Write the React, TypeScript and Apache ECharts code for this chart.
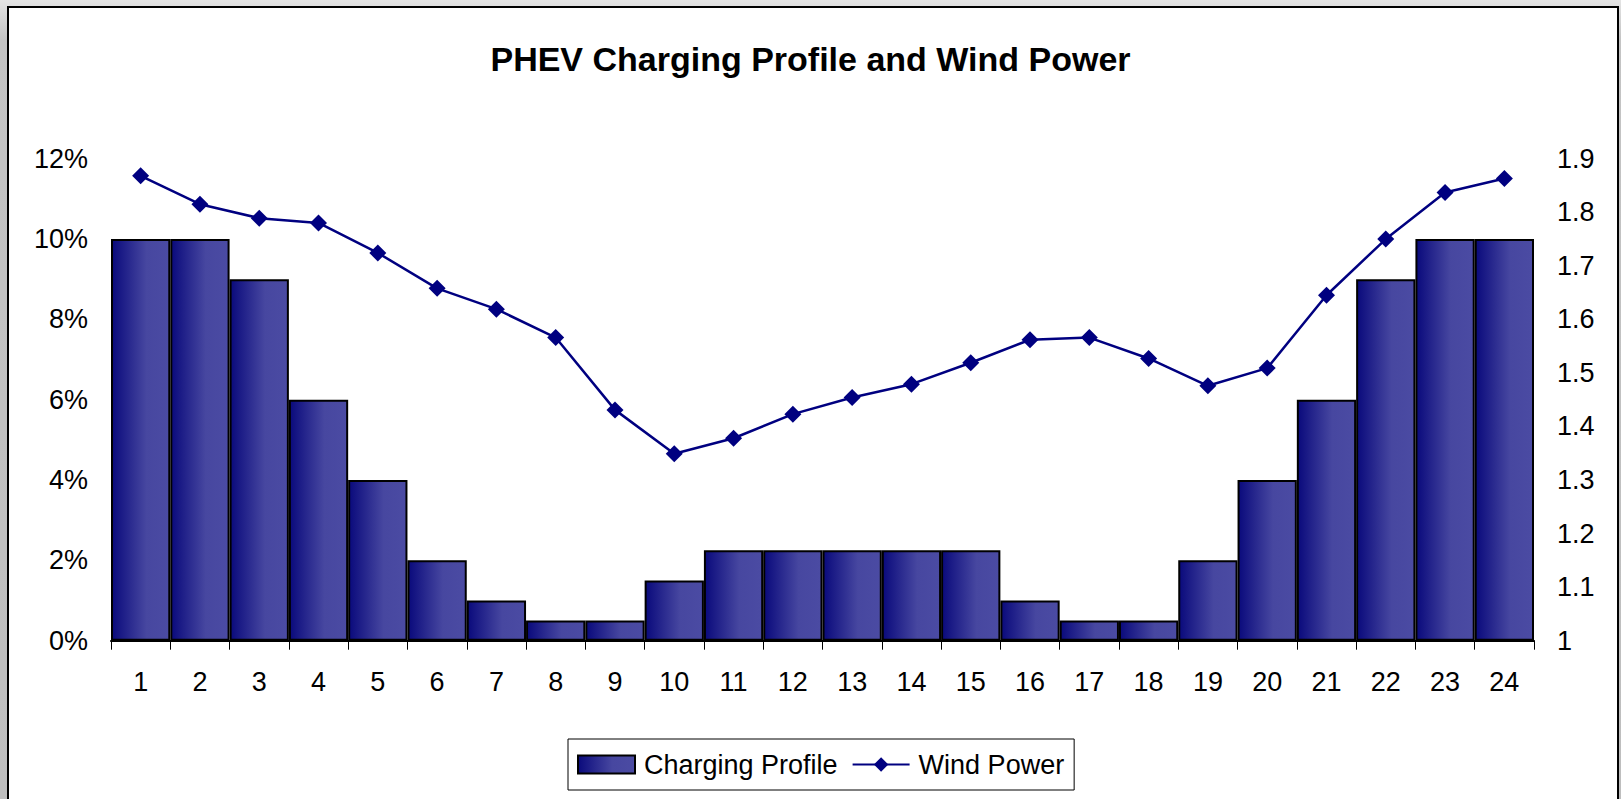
import React, { useEffect, useRef } from "react";
import * as echarts from "echarts";

const hours = ["1","2","3","4","5","6","7","8","9","10","11","12","13","14","15","16","17","18","19","20","21","22","23","24"];
const chargingProfile = [10, 10, 9, 6, 4, 2, 1, 0.5, 0.5, 1.5, 2.25, 2.25, 2.25, 2.25, 2.25, 1, 0.5, 0.5, 2, 4, 6, 9, 10, 10];
const windPower = [1.868, 1.815, 1.789, 1.78, 1.724, 1.658, 1.619, 1.566, 1.431, 1.349, 1.378, 1.423, 1.454, 1.479, 1.519, 1.562, 1.566, 1.527, 1.476, 1.509, 1.645, 1.75, 1.837, 1.863];
const titleText = "PHEV Charging Profile and Wind Power";
const seriesNames = ["Charging Profile", "Wind Power"];

const FONT = "'Liberation Sans', Arial, sans-serif";

export default function App() {
  const ref = useRef<HTMLDivElement>(null);
  useEffect(() => {
    if (!ref.current) return;
    const chart = echarts.init(ref.current, undefined, { renderer: "svg" });
    const barGradient = new echarts.graphic.LinearGradient(0, 0, 1, 0, [
      { offset: 0, color: "#0a0a7c" },
      { offset: 0.6, color: "#4747a0" },
      { offset: 1, color: "#4b4ba3" },
    ]);
    chart.setOption({
      animation: false,
      title: {
        text: titleText,
        left: "center",
        top: 37,
        textStyle: { fontFamily: FONT, fontSize: 34, fontWeight: "bold", color: "#000" },
      },
      legend: {
        left: 568,
        top: 739,
        padding: [12, 10, 12, 9],
        borderColor: "#000",
        borderWidth: 1,
        backgroundColor: "#fff",
        itemWidth: 57,
        itemHeight: 18,
        itemGap: 14,
        textStyle: { fontFamily: FONT, fontSize: 27, color: "#000", padding: [0, 0, 0, 4] },
        data: [{ name: seriesNames[0], icon: "rect" }, { name: seriesNames[1] }],
      },
      grid: { left: 111, right: 87, top: 158.7, bottom: 158.3, containLabel: false },
      xAxis: {
        type: "category",
        data: hours,
        boundaryGap: true,
        axisLine: { show: true, lineStyle: { color: "#000", width: 2 } },
        axisTick: { show: true, length: 9, lineStyle: { color: "#000", width: 1 } },
        axisLabel: { fontFamily: FONT, fontSize: 27, color: "#000", margin: 28 },
        splitLine: { show: false },
      },
      yAxis: [
        {
          type: "value",
          min: 0,
          max: 12,
          interval: 2,
          axisLine: { show: false },
          axisTick: { show: false },
          splitLine: { show: false },
          axisLabel: { fontFamily: FONT, fontSize: 27, color: "#000", margin: 23, formatter: "{value}%" },
        },
        {
          type: "value",
          min: 1,
          max: 1.9,
          interval: 0.1,
          position: "right",
          axisLine: { show: false },
          axisTick: { show: false },
          splitLine: { show: false },
          axisLabel: {
            fontFamily: FONT,
            fontSize: 27,
            color: "#000",
            margin: 23,
            formatter: (v: number) => String(Math.round(v * 10) / 10),
          },
        },
      ],
      series: [
        {
          name: seriesNames[0],
          type: "bar",
          yAxisIndex: 0,
          data: chargingProfile,
          barCategoryGap: "0%",
          itemStyle: { color: barGradient, borderColor: "#000", borderWidth: 2 },
        },
        {
          name: seriesNames[1],
          type: "line",
          yAxisIndex: 1,
          data: windPower,
          symbol: "diamond",
          symbolSize: 17,
          lineStyle: { color: "#000080", width: 2.5 },
          itemStyle: { color: "#000080" },
        },
      ],
    });
    return () => chart.dispose();
  }, []);

  return (
    <div
      style={{
        position: "fixed",
        left: 0,
        top: 0,
        width: 1621,
        height: 799,
        background: "linear-gradient(to bottom, #e4e4e4 0px, #c4c4c4 40px, #bebebe 100%)",
        overflow: "hidden",
      }}
    >
      <div
        style={{
          position: "absolute",
          left: 7,
          top: 6,
          width: 1608,
          height: 820,
          background: "#fff",
          border: "2px solid #000",
        }}
      />
      <div ref={ref} style={{ position: "absolute", left: 0, top: 0, width: 1621, height: 799 }} />
    </div>
  );
}
